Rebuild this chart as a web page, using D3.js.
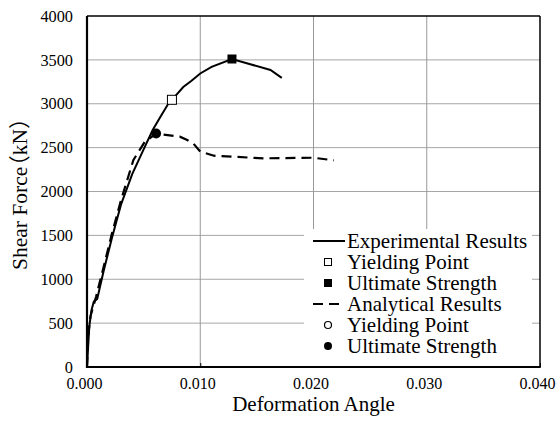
<!DOCTYPE html>
<html>
<head>
<meta charset="utf-8">
<script src="https://cdn.jsdelivr.net/npm/d3@7"></script>
<style>
  body { margin: 0; background: #fff; }
  text { font-family: "Times New Roman", "Liberation Serif", serif; fill: #000; }
</style>
</head>
<body>
<div class="d3-wrapper"></div>
<script>
// experimental curve (deformation angle, shear force kN)
var expAngle = [0, 0.0002, 0.0004, 0.0006, 0.0009, 0.0015, 0.0022, 0.0030, 0.0040, 0.0050, 0.0058, 0.0065, 0.0072, 0.0075, 0.0085, 0.0092, 0.0100, 0.0110, 0.0128, 0.0162, 0.0172];
var expForce = [0, 460, 650, 745, 775, 1110, 1470, 1850, 2200, 2480, 2700, 2855, 3005, 3045, 3190, 3260, 3345, 3420, 3510, 3385, 3295];

// analytical curve
var anaAngle = [0, 0.0001, 0.0003, 0.0008, 0.0011, 0.0014, 0.0022, 0.0030, 0.0041, 0.0051, 0.0061, 0.0067, 0.0082, 0.0088, 0.0094, 0.0100, 0.0112, 0.0156, 0.0200, 0.0218];
var anaForce = [0, 345, 575, 800, 955, 1105, 1520, 1900, 2360, 2565, 2660, 2650, 2625, 2590, 2545, 2455, 2408, 2378, 2385, 2355];

// key points
var expYield = [0.0075, 3045];
var expUltimate = [0.0128, 3510];
var anaUltimate = [0.0061, 2660];

var xTicks = [0, 0.01, 0.02, 0.03, 0.04];
var yTicks = [0, 500, 1000, 1500, 2000, 2500, 3000, 3500, 4000];

var legendLabels = ["Experimental Results", "Yielding Point", "Ultimate Strength", "Analytical Results", "Yielding Point", "Ultimate Strength"];

var width = 556, height = 421;
var plotLeft = 87, plotRight = 540, plotTop = 16, plotBottom = 367;
var serif = "'Times New Roman','Liberation Serif',serif";

var svg = d3.select(".d3-wrapper").append("svg").attr("width", width).attr("height", height);

var x = d3.scaleLinear().domain([0, 0.04]).range([plotLeft, plotRight]);
var y = d3.scaleLinear().domain([0, 4000]).range([plotBottom, plotTop]);

// grid
svg.append("g").selectAll("line").data(yTicks.slice(1, -1)).enter().append("line")
  .attr("x1", plotLeft).attr("x2", plotRight).attr("y1", function(d) { return y(d); }).attr("y2", function(d) { return y(d); })
  .attr("stroke", "#a6a6a6").attr("stroke-width", 1);
svg.append("g").selectAll("line").data(xTicks.slice(1, -1)).enter().append("line")
  .attr("y1", plotTop).attr("y2", plotBottom).attr("x1", function(d) { return x(d); }).attr("x2", function(d) { return x(d); })
  .attr("stroke", "#999").attr("stroke-width", 1);

// axes
var xAxis = svg.append("g").attr("transform", "translate(0," + plotBottom + ")")
  .call(d3.axisBottom(x).tickValues(xTicks).tickFormat(d3.format(".3f")).tickSizeInner(-4).tickSizeOuter(0).tickPadding(11));
var yAxis = svg.append("g").attr("transform", "translate(" + plotLeft + ",0)")
  .call(d3.axisLeft(y).tickValues(yTicks).tickFormat(d3.format("d")).tickSizeInner(0).tickSizeOuter(0).tickPadding(14));
xAxis.selectAll("text").style("font-size", "16px").style("font-family", serif).attr("dx", -3);
yAxis.selectAll("text").style("font-size", "16.3px").style("font-family", serif);
xAxis.select(".domain").remove();
yAxis.select(".domain").remove();
xAxis.selectAll(".tick line").attr("stroke", "#000");

// frame
svg.append("line").attr("x1", plotLeft).attr("x2", plotRight).attr("y1", plotTop).attr("y2", plotTop).attr("stroke", "#000").attr("stroke-width", 1.5);
svg.append("line").attr("x1", plotRight).attr("x2", plotRight).attr("y1", plotTop).attr("y2", plotBottom).attr("stroke", "#000").attr("stroke-width", 1.5);
svg.append("line").attr("x1", plotLeft).attr("x2", plotLeft).attr("y1", plotTop).attr("y2", plotBottom + 1).attr("stroke", "#000").attr("stroke-width", 2.2);
svg.append("line").attr("x1", plotLeft - 1).attr("x2", plotRight + 0.75).attr("y1", plotBottom).attr("y2", plotBottom).attr("stroke", "#000").attr("stroke-width", 2.2);

var line = d3.line().x(function(d) { return x(d[0]); }).y(function(d) { return y(d[1]); });

svg.append("path").datum(d3.zip(expAngle, expForce)).attr("d", line)
  .attr("fill", "none").attr("stroke", "#000").attr("stroke-width", 2);
svg.append("path").datum(d3.zip(anaAngle, anaForce)).attr("d", line)
  .attr("fill", "none").attr("stroke", "#000").attr("stroke-width", 2.2).attr("stroke-dasharray", "10,6");

// markers on curves
var ms = 9;
svg.append("rect").attr("x", x(expYield[0]) - ms / 2).attr("y", y(expYield[1]) - ms / 2).attr("width", ms).attr("height", ms)
  .attr("fill", "#fff").attr("stroke", "#000").attr("stroke-width", 1);
svg.append("rect").attr("x", x(expUltimate[0]) - ms / 2).attr("y", y(expUltimate[1]) - ms / 2).attr("width", ms).attr("height", ms)
  .attr("fill", "#000");
svg.append("circle").attr("cx", x(anaUltimate[0])).attr("cy", y(anaUltimate[1])).attr("r", 5).attr("fill", "#000");

// legend
var legend = svg.append("g");
legend.append("rect").attr("x", 304).attr("y", 229).attr("width", 228).attr("height", plotBottom - 230).attr("fill", "#fff");
var rowY = function(i) { return 241 + i * 21; };
legend.selectAll("text").data(legendLabels).enter().append("text")
  .attr("x", 347).attr("y", function(d, i) { return rowY(i); }).attr("dy", "0.35em")
  .style("font-size", "21px").text(function(d) { return d; });

legend.append("line").attr("x1", 313).attr("x2", 345).attr("y1", rowY(0)).attr("y2", rowY(0)).attr("stroke", "#000").attr("stroke-width", 2);
legend.append("rect").attr("x", 328 - 3.5).attr("y", rowY(1) - 3.5).attr("width", 7).attr("height", 7).attr("fill", "#fff").attr("stroke", "#000").attr("stroke-width", 1);
legend.append("rect").attr("x", 328 - 4).attr("y", rowY(2) - 4).attr("width", 8).attr("height", 8).attr("fill", "#000");
legend.append("line").attr("x1", 313).attr("x2", 345).attr("y1", rowY(3)).attr("y2", rowY(3)).attr("stroke", "#000").attr("stroke-width", 2.2).attr("stroke-dasharray", "10,6");
legend.append("circle").attr("cx", 328).attr("cy", rowY(4)).attr("r", 3.5).attr("fill", "#fff").attr("stroke", "#000").attr("stroke-width", 1.2);
legend.append("circle").attr("cx", 328).attr("cy", rowY(5)).attr("r", 4).attr("fill", "#000");

// axis titles
svg.append("text").attr("x", x(0.02)).attr("y", 411).attr("text-anchor", "middle").style("font-size", "21px").text("Deformation Angle");
var yTitle = svg.append("text").attr("transform", "translate(27,270) rotate(-90)").style("font-size", "21.5px");
yTitle.append("tspan").text("Shear Force");
yTitle.append("tspan").attr("dx", -10).style("font-family", "'Noto Sans CJK JP'").text("（");
yTitle.append("tspan").text("kN");
yTitle.append("tspan").style("font-family", "'Noto Sans CJK JP'").text("）");
</script>
</body>
</html>
